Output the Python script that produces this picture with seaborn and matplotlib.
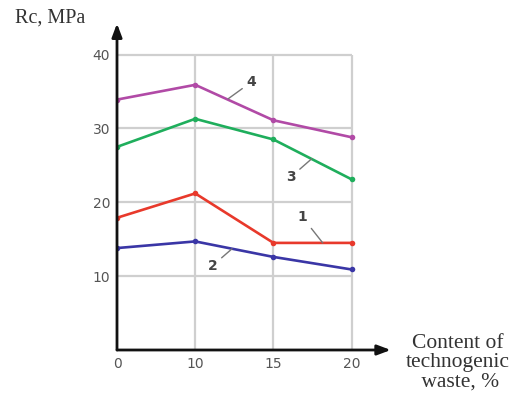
import matplotlib
matplotlib.use('Agg')
import matplotlib.pyplot as plt
import numpy as np
import pandas as pd
import seaborn as sns

# waste content categories (equally spaced on the chart)
waste_levels = ['0', '10', '15', '20']
curve_1 = [17.9, 21.2, 14.5, 14.5]
curve_2 = [13.8, 14.7, 12.6, 10.9]
curve_3 = [27.5, 31.3, 28.5, 23.1]
curve_4 = [33.9, 35.9, 31.1, 28.8]
curve_names = ['1', '2', '3', '4']
y_ticks = [10, 20, 30, 40]

palette = {'1': '#e8392b', '2': '#3a36a6', '3': '#1fae5c', '4': '#b14aa6'}

rows = []
for name, vals in zip(curve_names, [curve_1, curve_2, curve_3, curve_4]):
    for i, v in enumerate(vals):
        rows.append({'pos': i, 'curve': name, 'Rc': v})
df = pd.DataFrame(rows)

sns.set_style('white')
plt.rcParams['font.family'] = ['DejaVu Sans']

fig = plt.figure(figsize=(5.17, 3.99), dpi=100)
ax = fig.add_axes([117 / 517, 49 / 399, 273 / 517, 325 / 399])

# grid
for t in y_ticks:
    ax.hlines(t, 0, 3, color='#cfcfcf', lw=1.6, zorder=1)
for p in range(1, len(waste_levels)):
    ax.vlines(p, 0, 40, color='#cfcfcf', lw=1.6, zorder=1)

sns.lineplot(data=df, x='pos', y='Rc', hue='curve', palette=palette,
             marker='o', markersize=4, markeredgewidth=0, lw=1.9,
             legend=False, ax=ax, zorder=3)

ax.set_xlim(0, 3.49)
ax.set_ylim(0, 44)
for s in ['top', 'right', 'left', 'bottom']:
    ax.spines[s].set_visible(False)

# axes with arrows
ax.annotate('', xy=(3.5, 0), xytext=(0, 0), xycoords='data',
            arrowprops=dict(arrowstyle='-|>,head_length=0.8,head_width=0.3',
                            color='#111111', lw=2, shrinkA=0, shrinkB=0),
            annotation_clip=False, zorder=4)
ax.annotate('', xy=(0, 44.2), xytext=(0, 0), xycoords='data',
            arrowprops=dict(arrowstyle='-|>,head_length=0.8,head_width=0.3',
                            color='#111111', lw=2, shrinkA=0, shrinkB=0),
            annotation_clip=False, zorder=4)

ax.set_xticks(range(len(waste_levels)))
ax.set_xticklabels(waste_levels)
ax.set_yticks(y_ticks)
ax.tick_params(axis='both', length=0, labelsize=10, colors='#555555')
ax.tick_params(axis='x', pad=5)
ax.tick_params(axis='y', pad=5)
ax.set_xlabel('')
ax.set_ylabel('')

serif = ['Liberation Serif', 'DejaVu Serif']
fig.text(15 / 517, 1 - 18 / 399, 'Rc, MPa', family=serif, fontsize=14.5,
         color='#333333', va='center', ha='left')
fig.text(458 / 517, 1 - 363 / 399, 'Content of\ntechnogenic\n waste, %',
         family=serif, fontsize=15.5, color='#333333', va='center',
         ha='center', linespacing=1.02)

# curve number labels with leader lines
callouts = [('1', (2.63, 14.5), (2.37, 18.0)),
            ('2', (1.47, 13.7), (1.22, 11.4)),
            ('3', (2.49, 25.9), (2.22, 23.4)),
            ('4', (1.42, 34.0), (1.72, 36.3))]
for name, tip, txt in callouts:
    ax.annotate(name, xy=tip, xytext=txt, fontsize=10, fontweight='bold',
                color='#444444', ha='center', va='center',
                arrowprops=dict(arrowstyle='-', color='#777777', lw=1,
                                shrinkA=1, shrinkB=0))

fig.savefig('out.png', dpi=100)
